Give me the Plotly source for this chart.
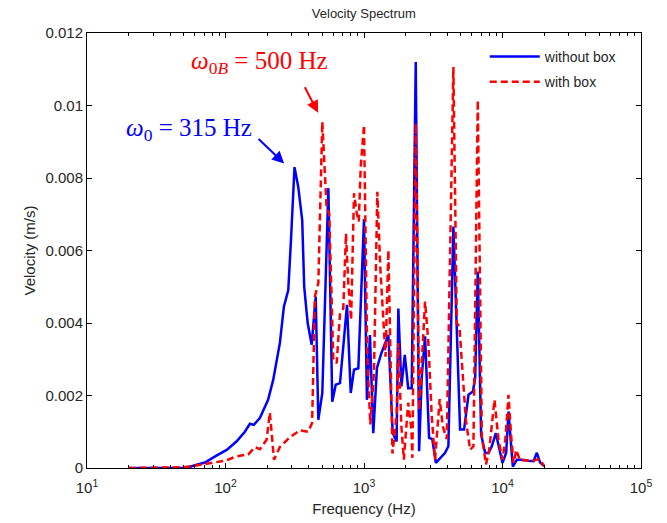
import math
import plotly.graph_objects as go

# ---- data ----
freq_without = [20, 30, 40, 52, 62, 71, 86, 102, 120, 138,
                150, 160, 177, 203, 221, 247, 264, 284, 297, 315,
                335, 358, 370, 392, 419, 448, 468, 500, 553, 590,
                625, 671, 754, 802, 847, 910, 1000, 1050, 1104, 1167,
                1240, 1335, 1500, 1611, 1720, 1770, 1862, 1970, 2085, 2210,
                2364, 2500, 2612, 2760, 2951, 3112, 3300, 3543, 3850, 4067,
                4420, 4940, 5280, 5680, 6110, 6345, 6630, 7010, 7490, 7910,
                8370, 8950, 9460, 10000, 10630, 11050, 11550, 11880, 12700, 13800,
                15400, 16760, 17700, 18700, 20000]
vel_without = [0, 0, 0, 0, 0.00009, 0.00015, 0.00034, 0.0005, 0.00073, 0.001,
               0.00122, 0.00119, 0.00138, 0.00188, 0.00243, 0.00345, 0.00445, 0.00491, 0.00629, 0.0083,
               0.00776, 0.00684, 0.005, 0.004, 0.0034, 0.00473, 0.00133, 0.00207, 0.00772, 0.00183,
               0.0023, 0.00234, 0.0045, 0.00207, 0.00271, 0.00275, 0.00687, 0.00188, 0.00367, 0.00096,
               0.00276, 0.00317, 0.00367, 0.00097, 0.00073, 0.0044, 0.00225, 0.00312, 0.0022, 0.0022,
               0.0112, 0.00046, 0.00252, 0.00363, 0.00083, 0.0008, 0.00014, 0.00028, 0.00042, 0.0006,
               0.00666, 0.00106, 0.00106, 0.00202, 0.00211, 0.00248, 0.00542, 0.00092, 0.00042, 0.00041,
               0.0006, 0.00096, 0.0005, 0.00014, 0.00042, 0.00156, 0.0006, 0.00004, 0.00023, 0.00023,
               0.0002, 0.00019, 0.00042, 0.00015, 0.00005]

freq_with = [20, 30, 40, 50, 57, 67, 79, 91, 102, 114,
             127, 146, 163, 177, 198, 209, 215, 224, 247, 292,
             345, 395, 422, 442, 468, 500, 537, 561, 600, 635,
             671, 709, 741, 770, 807, 847, 885, 917, 947, 1000,
             1055, 1110, 1180, 1248, 1310, 1400, 1430, 1500, 1580, 1605,
             1722, 1770, 1862, 1940, 2085, 2200, 2235, 2364, 2505, 2640,
             2760, 2917, 3084, 3258, 3520, 3705, 3960, 4420, 4676, 4886,
             5137, 5437, 5838, 6167, 6630, 7095, 7600, 8020, 8750, 9360,
             10000, 10480, 11050, 11550, 12030, 12560, 13420, 14590, 15860, 17230,
             18490, 20000]
vel_with = [0, 0, 0, 0.00002, 0.00005, 0.00009, 0.00014, 0.00018, 0.00021, 0.00029,
            0.00034, 0.00037, 0.00058, 0.00052, 0.00078, 0.00153, 0.00106, 0.00023, 0.00058, 0.00085,
            0.00104, 0.001, 0.00124, 0.00473, 0.0051, 0.00955, 0.00716, 0.00702, 0.00303, 0.00289,
            0.00425, 0.0044, 0.00647, 0.0051, 0.00408, 0.00758, 0.00705, 0.0068, 0.00831, 0.00946,
            0.00317, 0.0012, 0.00262, 0.00762, 0.00555, 0.00353, 0.00307, 0.00601, 0.00142, 0.0004,
            0.0015, 0.00345, 0.00115, 0.00023, 0.0018, 0.00106, 0.00028, 0.0095, 0.0016, 0.00335,
            0.00459, 0.00345, 0.00142, 0.00023, 0.0019, 0.00115, 0.0008, 0.01106, 0.004, 0.0039,
            0.0028, 0.00133, 0.0005, 0.0006, 0.01015, 0.00087, 0.0001, 0.0005, 0.00188, 0.00078,
            0.00023, 0.00078, 0.00202, 0.00087, 0.00014, 0.0005, 0.0002, 0.00022, 0.00018, 0.00022,
            0.00025, 0.00005]

series_names = ["without box", "with box"]
x_ticks = [10, 100, 1000, 10000, 100000]
x_ticklabels = ["10<sup>1</sup>", "10<sup>2</sup>", "10<sup>3</sup>", "10<sup>4</sup>", "10<sup>5</sup>"]
y_ticks = [0, 0.002, 0.004, 0.006, 0.008, 0.01, 0.012]
y_ticklabels = ["0", "0.002", "0.004", "0.006", "0.008", "0.01", "0.012"]

peak_without = (315, 0.0083)
peak_with = (500, 0.00955)

BLUE = "#0000ff"
RED = "#ff0000"
FONT = "Liberation Sans, Arial, sans-serif"
SERIF = "Liberation Serif, Times New Roman, serif"
TXT = "#262626"

fig = go.Figure()
fig.add_trace(go.Scatter(x=freq_without, y=vel_without, mode="lines", name=series_names[0],
                         legendgroup="a", line=dict(color=BLUE, width=2.5)))
fig.add_trace(go.Scatter(x=freq_with, y=vel_with, mode="lines", name=series_names[1],
                         legendgroup="b", line=dict(color=RED, width=2.5, dash="7px,4px")))

axis_common = dict(showline=True, linecolor="black", linewidth=1, mirror="allticks",
                   ticks="inside", ticklen=5, tickcolor="black", showgrid=False, zeroline=False,
                   automargin=False,
                   tickfont=dict(family=FONT, size=15, color=TXT))

fig.update_xaxes(type="log", range=[1, 5], tickvals=x_ticks, ticktext=x_ticklabels,
                 ticklabelstandoff=6,
                 minor=dict(ticks="inside", ticklen=3, tickcolor="black", dtick="D1", showgrid=False),
                 title=dict(text="Frequency (Hz)", font=dict(family=FONT, size=15, color=TXT), standoff=8),
                 **axis_common)
fig.update_yaxes(range=[0, 0.012], tickvals=y_ticks, ticktext=y_ticklabels,
                 title=dict(text="Velocity (m/s)", font=dict(family=FONT, size=15, color=TXT), standoff=6),
                 **axis_common)

# text labels
fig.add_annotation(x=math.log10(peak_without[0]), y=peak_without[1], xref="x", yref="y",
                   text="<i>ω</i><sub>0</sub> = 315 Hz", showarrow=False,
                   xshift=-106, yshift=38, font=dict(family=SERIF, size=25, color=BLUE))
fig.add_annotation(x=math.log10(peak_with[0]), y=peak_with[1], xref="x", yref="y",
                   text="<i>ω</i><sub>0<i>B</i></sub> = 500 Hz", showarrow=False,
                   xshift=-63, yshift=59, font=dict(family=SERIF, size=25, color=RED))
# arrows
fig.add_annotation(x=math.log10(265), y=0.0084, xref="x", yref="y", text="",
                   showarrow=True, arrowhead=2, arrowsize=1.2, arrowwidth=2, arrowcolor=BLUE,
                   ax=-27, ay=-26)
fig.add_annotation(x=math.log10(466), y=0.0098, xref="x", yref="y", text="",
                   showarrow=True, arrowhead=2, arrowsize=1.2, arrowwidth=2, arrowcolor=RED,
                   ax=-14, ay=-27)

fig.update_layout(
    width=667, height=523,
    margin=dict(l=87, r=26, t=33, b=55),
    paper_bgcolor="white", plot_bgcolor="white",
    title=dict(text="Velocity Spectrum", x=0.5455, xanchor="center", y=0.975, yanchor="middle",
               font=dict(family=FONT, size=13, color=TXT)),
    showlegend=True,
    legend=dict(x=0.718, y=0.982, xanchor="left", yanchor="top", bgcolor="rgba(0,0,0,0)",
                font=dict(family=FONT, size=14, color=TXT), tracegroupgap=4,
                itemwidth=50),
)

fig.write_html("out.html", config={"displayModeBar": False})
with open("out.html", encoding="utf-8") as fh:
    html = fh.read()
html = html.replace("<head>", "<head><style>html,body{margin:0;padding:0;}</style>", 1)
with open("out.html", "w", encoding="utf-8") as fh:
    fh.write(html)
